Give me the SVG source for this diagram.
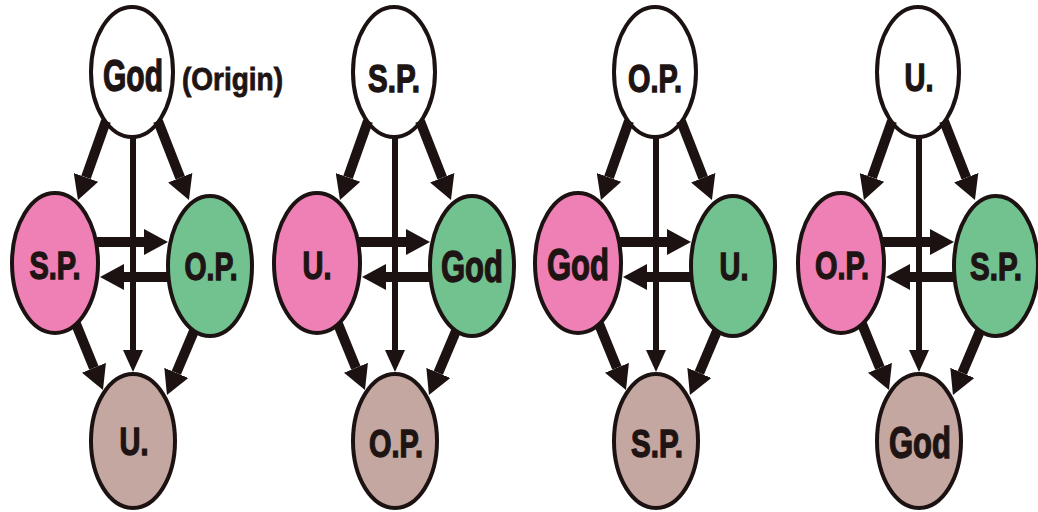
<svg xmlns="http://www.w3.org/2000/svg" width="1038" height="512" viewBox="0 0 1038 512">
<style>
.n{stroke:#1c1212;stroke-width:4}
.w{fill:#ffffff}
.p{fill:#ef80b5}
.g{fill:#72c28f}
.b{fill:#c4a7a0}
.t{font-family:"Liberation Sans",Arial,sans-serif;font-weight:bold;font-size:39px;fill:#1e1414;stroke:#1e1414;stroke-width:1.4;text-anchor:middle}
.tg{font-size:45px}
.o{font-family:"Liberation Sans",Arial,sans-serif;font-weight:bold;font-size:31px;fill:#1e1414;stroke:#1e1414;stroke-width:0.8}
.a{stroke:#1c1212;stroke-width:10;fill:none;marker-end:url(#hd)}
.v{stroke:#1c1212;stroke-width:6;fill:none;marker-end:url(#hv)}
</style>
<defs>
<marker id="hd" markerUnits="userSpaceOnUse" viewBox="0 0 24 26" markerWidth="24" markerHeight="26" refX="0" refY="13" orient="auto"><path d="M0,0 L24,13 L0,26 z" fill="#1c1212"/></marker>
<marker id="hv" markerUnits="userSpaceOnUse" viewBox="0 0 22 20" markerWidth="22" markerHeight="20" refX="0" refY="10" orient="auto"><path d="M0,0 L22,10 L0,20 z" fill="#1c1212"/></marker>
<g id="conn">
<line class="a" x1="106" y1="121" x2="86" y2="177.4"/>
<line class="a" x1="158" y1="121" x2="180.2" y2="177.7"/>
<line class="a" x1="97" y1="242" x2="144" y2="242"/>
<line class="a" x1="170" y1="277" x2="124" y2="277"/>
<line class="a" x1="76" y1="324" x2="93.9" y2="367.8"/>
<line class="a" x1="194" y1="331" x2="176.3" y2="372.9"/>
<line class="v" x1="133" y1="136" x2="133" y2="350"/>
</g>
</defs>

<!-- Diagram 1 -->
<g id="d1-top"><ellipse class="n w" cx="132" cy="72" rx="41" ry="65"/><text class="t tg" x="133" y="91" textLength="60" lengthAdjust="spacingAndGlyphs">God</text></g>
<g id="d1-origin"><text class="o" x="182" y="90" textLength="101" lengthAdjust="spacingAndGlyphs">(Origin)</text></g>
<g id="d1-left"><ellipse class="n p" cx="55" cy="263" rx="43" ry="70"/><text class="t" x="55" y="279" textLength="51" lengthAdjust="spacingAndGlyphs">S.P.</text></g>
<g id="d1-right"><ellipse class="n g" cx="210" cy="266" rx="42" ry="70"/><text class="t" x="211" y="280" textLength="53" lengthAdjust="spacingAndGlyphs">O.P.</text></g>
<g id="d1-bottom"><ellipse class="n b" cx="133" cy="441" rx="42" ry="67"/><text class="t" x="134" y="455" textLength="29" lengthAdjust="spacingAndGlyphs">U.</text></g>

<!-- Diagram 2 -->
<g id="d2-top"><ellipse class="n w" cx="394" cy="72" rx="41" ry="65"/><text class="t" x="394" y="92" textLength="52" lengthAdjust="spacingAndGlyphs">S.P.</text></g>
<g id="d2-left"><ellipse class="n p" cx="317" cy="263" rx="43" ry="70"/><text class="t" x="317" y="279" textLength="29" lengthAdjust="spacingAndGlyphs">U.</text></g>
<g id="d2-right"><ellipse class="n g" cx="472" cy="266" rx="42" ry="70"/><text class="t tg" x="472" y="282" textLength="62" lengthAdjust="spacingAndGlyphs">God</text></g>
<g id="d2-bottom"><ellipse class="n b" cx="395" cy="441" rx="42" ry="67"/><text class="t" x="396" y="457" textLength="54" lengthAdjust="spacingAndGlyphs">O.P.</text></g>

<!-- Diagram 3 -->
<g id="d3-top"><ellipse class="n w" cx="655" cy="72" rx="41" ry="65"/><text class="t" x="655" y="92" textLength="54" lengthAdjust="spacingAndGlyphs">O.P.</text></g>
<g id="d3-left"><ellipse class="n p" cx="578" cy="263" rx="43" ry="70"/><text class="t tg" x="578" y="280" textLength="62" lengthAdjust="spacingAndGlyphs">God</text></g>
<g id="d3-right"><ellipse class="n g" cx="733" cy="266" rx="42" ry="70"/><text class="t" x="734" y="280" textLength="29" lengthAdjust="spacingAndGlyphs">U.</text></g>
<g id="d3-bottom"><ellipse class="n b" cx="656" cy="441" rx="42" ry="67"/><text class="t" x="657" y="457" textLength="52" lengthAdjust="spacingAndGlyphs">S.P.</text></g>

<!-- Diagram 4 -->
<g id="d4-top"><ellipse class="n w" cx="918" cy="72" rx="41" ry="65"/><text class="t" x="919" y="91" textLength="29" lengthAdjust="spacingAndGlyphs">U.</text></g>
<g id="d4-left"><ellipse class="n p" cx="841" cy="263" rx="43" ry="70"/><text class="t" x="842" y="279" textLength="54" lengthAdjust="spacingAndGlyphs">O.P.</text></g>
<g id="d4-right"><ellipse class="n g" cx="996" cy="266" rx="42" ry="70"/><text class="t" x="996" y="280" textLength="52" lengthAdjust="spacingAndGlyphs">S.P.</text></g>
<g id="d4-bottom"><ellipse class="n b" cx="919" cy="441" rx="42" ry="67"/><text class="t tg" x="920" y="458" textLength="62" lengthAdjust="spacingAndGlyphs">God</text></g>

<g id="connectors">
<use href="#conn" transform="translate(0,0)"/>
<use href="#conn" transform="translate(262,0)"/>
<use href="#conn" transform="translate(523,0)"/>
<use href="#conn" transform="translate(786,0)"/>
</g>
</svg>
